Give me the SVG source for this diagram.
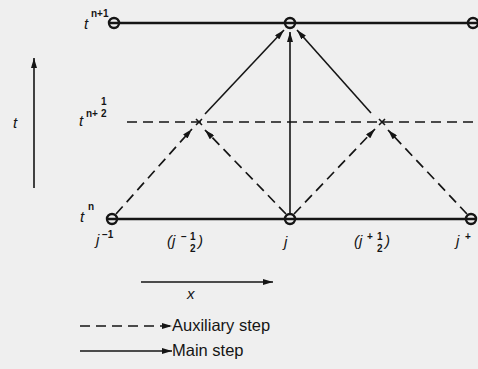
<svg xmlns="http://www.w3.org/2000/svg" width="478" height="369" viewBox="0 0 478 369">
<defs>
<marker id="ah" viewBox="0 0 10 6" refX="10" refY="3" markerWidth="10" markerHeight="6" markerUnits="userSpaceOnUse" orient="auto">
<path d="M0,0 L10,3 L0,6 Z" fill="#151515"/>
</marker>
<style>
.solid{stroke:#151515;stroke-width:1.6;fill:none}
.thick{stroke:#151515;stroke-width:2.6;fill:none}
.dash{stroke:#151515;stroke-width:1.7;fill:none;stroke-dasharray:10 6}
.node{stroke:#151515;stroke-width:2.4;fill:none}
.lbl{font-family:"Liberation Sans",Arial,sans-serif;fill:#151515}
.v{font-style:italic;font-size:15px}
.s{font-size:10px;font-weight:bold}
.leg{font-size:16.5px}
</style>
</defs>
<rect width="478" height="369" fill="#efefef"/>
<g id="connectors">
<line class="thick" x1="109" y1="23" x2="477" y2="23"/>
<line class="thick" x1="107" y1="219" x2="476" y2="219"/>
<line class="dash" x1="127" y1="122" x2="478" y2="122"/>
<line class="dash" x1="116" y1="214" x2="192" y2="129" marker-end="url(#ah)"/>
<line class="dash" x1="286" y1="214" x2="205" y2="130" marker-end="url(#ah)"/>
<line class="dash" x1="294" y1="214" x2="375" y2="129" marker-end="url(#ah)"/>
<line class="dash" x1="467" y1="214" x2="388" y2="130" marker-end="url(#ah)"/>
<line class="solid" x1="205" y1="114" x2="284" y2="30" marker-end="url(#ah)"/>
<line class="solid" x1="290" y1="214" x2="290" y2="32" marker-end="url(#ah)"/>
<line class="solid" x1="371" y1="113" x2="297" y2="30" marker-end="url(#ah)"/>
<line class="solid" x1="34" y1="188" x2="34" y2="58" marker-end="url(#ah)"/>
<line class="solid" x1="141" y1="282" x2="273" y2="282" marker-end="url(#ah)"/>
<line class="dash" x1="80" y1="326" x2="172" y2="326" marker-end="url(#ah)"/>
<line class="solid" x1="80" y1="351" x2="172" y2="351" marker-end="url(#ah)"/>
</g>
<g id="n_t1_jm1"><circle class="node" cx="114" cy="23" r="5"/></g>
<g id="n_t1_j"><circle class="node" cx="290" cy="23" r="5"/></g>
<g id="n_t1_jp1"><circle class="node" cx="473" cy="23" r="5"/></g>
<g id="n_t0_jm1"><circle class="node" cx="112" cy="219" r="5"/></g>
<g id="n_t0_j"><circle class="node" cx="290" cy="219" r="5"/></g>
<g id="n_t0_jp1"><circle class="node" cx="471" cy="219" r="5"/></g>
<g id="x_left"><path d="M196,119 L202,125 M202,119 L196,125" class="solid" stroke-width="2"/></g>
<g id="x_right"><path d="M379,119 L385,125 M385,119 L379,125" class="solid" stroke-width="2"/></g>
<g id="labels">
<text class="lbl v" x="84" y="29">t</text>
<text class="lbl s" x="91" y="17">n+1</text>
<text class="lbl v" x="79" y="126">t</text>
<text class="lbl s" x="86" y="117">n+</text>
<text class="lbl s" x="101" y="105">1</text>
<text class="lbl s" x="101" y="117">2</text>
<text class="lbl v" x="80" y="222">t</text>
<text class="lbl s" x="88" y="210">n</text>
<text class="lbl v" x="13" y="128">t</text>
<text class="lbl v" x="96" y="245">j</text>
<text class="lbl s" x="102" y="238">−1</text>
<text class="lbl v" x="167" y="246">(j</text>
<text class="lbl s" x="181" y="240">−</text>
<text class="lbl s" x="190" y="240">1</text>
<text class="lbl s" x="190" y="252">2</text>
<text class="lbl v" x="198" y="246">)</text>
<text class="lbl v" x="284" y="247">j</text>
<text class="lbl v" x="354" y="246">(j</text>
<text class="lbl s" x="367" y="240">+</text>
<text class="lbl s" x="377" y="240">1</text>
<text class="lbl s" x="377" y="252">2</text>
<text class="lbl v" x="385" y="246">)</text>
<text class="lbl v" x="456" y="246">j</text>
<text class="lbl s" x="465" y="240">+</text>
<text class="lbl v" x="187" y="299">x</text>
<text class="lbl leg" x="172" y="331">Auxiliary step</text>
<text class="lbl leg" x="172" y="356">Main step</text>
</g>
</svg>
